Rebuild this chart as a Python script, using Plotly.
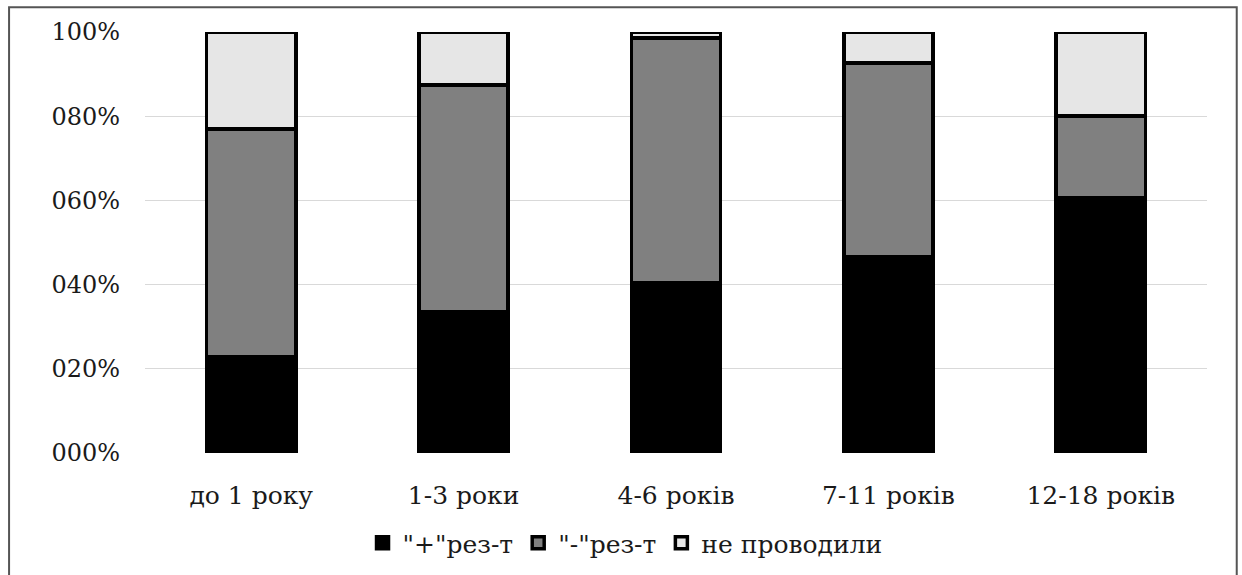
import plotly.graph_objects as go

categories = ["до 1 року", "1-3 роки", "4-6 років", "7-11 років", "12-18 років"]
positive = [0.228, 0.335, 0.404, 0.466, 0.606]
negative = [0.542, 0.539, 0.582, 0.460, 0.194]
not_done = [0.230, 0.126, 0.014, 0.074, 0.200]

series_names = ['"+"рез-т', '"-"рез-т', "не проводили"]
tick_vals = [0, 0.2, 0.4, 0.6, 0.8, 1.0]
tick_text = ["000%", "020%", "040%", "060%", "080%", "100%"]

fills = ["#000000", "#808080", "#e6e6e6"]
SERIF = "DejaVu Serif"
y_font = dict(family=SERIF, size=24, color="#1a1a1a")
x_font = dict(family=SERIF, size=25, color="#1a1a1a")
legend_font = dict(family=SERIF, size=25, color="#1a1a1a")

fig = go.Figure()
for name, vals, col in zip(series_names, [positive, negative, not_done], fills):
    fig.add_trace(go.Bar(
        x=categories, y=vals, name=name,
        marker=dict(color=col, line=dict(color="#000000", width=3.5)),
        width=0.42,
    ))

fig.update_layout(
    template="none",
    barmode="stack",
    width=1242, height=575,
    margin=dict(l=145, r=35, t=32, b=122, autoexpand=False),
    paper_bgcolor="white", plot_bgcolor="white",
    font=y_font,
    showlegend=True,
    legend=dict(orientation="h", x=0.452, xanchor="center", y=-0.214, yanchor="middle",
                font=legend_font, traceorder="normal", itemwidth=30),
    xaxis=dict(showgrid=False, showline=False, ticks="", tickfont=x_font,
               ticklabelstandoff=25, automargin=False),
    yaxis=dict(range=[0, 1.0], tickvals=tick_vals, ticktext=tick_text,
               showgrid=True, gridcolor="#d9d9d9", gridwidth=1,
               zeroline=False, showline=False, ticks="", tickfont=y_font,
               ticklabelstandoff=24, automargin=False),
    shapes=[dict(type="rect", xref="paper", yref="paper",
                 x0=-0.128, x1=1.028, y0=-0.3, y1=1.059,
                 line=dict(color="#555555", width=2), fillcolor="rgba(0,0,0,0)",
                 layer="below")],
)

fig.write_html("out.html")
